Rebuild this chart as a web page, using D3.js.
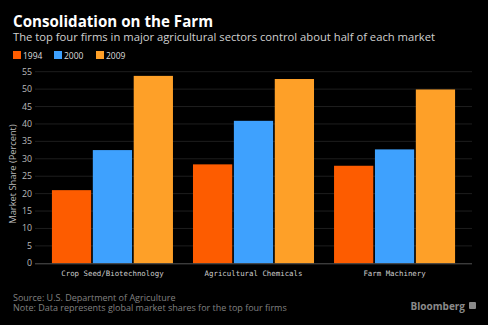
<!DOCTYPE html>
<html>
<head>
<meta charset="utf-8">
<script src="https://cdn.jsdelivr.net/npm/d3@7"></script>
<style>
  body { margin: 0; background: #000; }
  svg { display: block; background: #000; }
</style>
</head>
<body>
<svg width="488" height="325"></svg>
<script>
var sectors = ['Crop Seed/Biotechnology', 'Agricultural Chemicals', 'Farm Machinery'];
var years = ['1994', '2000', '2009'];
var share1994 = [21.0, 28.4, 28.0];
var share2000 = [32.5, 40.9, 32.7];
var share2009 = [53.8, 52.9, 49.9];
var yTicks = [0, 5, 10, 15, 20, 25, 30, 35, 40, 45, 50, 55];
var colors = ['#fd5c00', '#3ea1fe', '#fea028'];

var svg = d3.select('svg');
var width = +svg.attr('width');
var height = +svg.attr('height');

var series = [share1994, share2000, share2009];
var rows = sectors.map(function(s, i) {
    return { sector: s, values: years.map(function(y, j) { return { year: y, v: series[j][i], k: j }; }) };
});

// title + subtitle
svg.append('text').attr('x', 13).attr('y', 26.5)
    .attr('font-family', 'Open Sans').attr('font-weight', 'bold').attr('font-size', '15.5px')
    .attr('fill', '#fff').attr('textLength', 200).attr('lengthAdjust', 'spacingAndGlyphs')
    .text('Consolidation on the Farm');
svg.append('text').attr('x', 13).attr('y', 40.5)
    .attr('font-family', 'Open Sans').attr('font-size', '11.5px')
    .attr('fill', '#d0d0d0').attr('textLength', 422).attr('lengthAdjust', 'spacingAndGlyphs')
    .text('The top four firms in major agricultural sectors control about half of each market');

// legend
var legX = [13, 54, 96];
var leg = svg.append('g').selectAll('g').data(years).enter().append('g')
    .attr('transform', function(d, i) { return 'translate(' + legX[i] + ',51)'; });
leg.append('rect').attr('width', 8).attr('height', 8).attr('fill', function(d, i) { return colors[i]; });
leg.append('text').attr('x', 10).attr('y', 7.5)
    .attr('font-family', 'Open Sans').attr('font-size', '8.5px').attr('fill', '#ddd')
    .text(function(d) { return d; });

// scales
var x0 = d3.scaleBand().domain(sectors).range([35, 472]).paddingInner(0.142).paddingOuter(0.12);
var x1 = d3.scaleBand().domain(years).range([0, x0.bandwidth()]).paddingInner(0.04);
var y = d3.scaleLinear().domain([0, 55]).range([263.3, 71.7]);

// grid
svg.append('g').selectAll('line').data(yTicks.filter(function(t) { return t > 0; })).enter().append('line')
    .attr('x1', 35).attr('x2', 472)
    .attr('y1', function(d) { return y(d); }).attr('y2', function(d) { return y(d); })
    .attr('stroke', '#1e1e1e').attr('stroke-width', 1);

// y tick labels
svg.append('g').selectAll('text').data(yTicks).enter().append('text')
    .attr('x', 32).attr('y', function(d) { return y(d) + 3; })
    .attr('text-anchor', 'end')
    .attr('font-family', 'Open Sans').attr('font-size', '8.8px').attr('fill', '#bbb')
    .text(function(d) { return d; });

svg.append('text')
    .attr('transform', 'translate(16,174) rotate(-90)')
    .attr('text-anchor', 'middle')
    .attr('font-family', 'Open Sans').attr('font-size', '9.3px').attr('fill', '#bbb')
    .text('Market Share (Percent)');

// bars
var groups = svg.append('g').selectAll('g').data(rows).enter().append('g')
    .attr('transform', function(d) { return 'translate(' + x0(d.sector) + ',0)'; });
groups.selectAll('rect').data(function(d) { return d.values; }).enter().append('rect')
    .attr('x', function(d) { return x1(d.year); })
    .attr('width', x1.bandwidth())
    .attr('y', function(d) { return y(d.v); })
    .attr('height', function(d) { return y(0) - y(d.v); })
    .attr('fill', function(d) { return colors[d.k]; });

// baseline
svg.append('line').attr('x1', 35).attr('x2', 472).attr('y1', y(0) + 0.5).attr('y2', y(0) + 0.5)
    .attr('stroke', '#555').attr('stroke-width', 1);

// x labels
svg.append('g').selectAll('text').data(sectors).enter().append('text')
    .attr('x', function(d) { return x0(d) + x0.bandwidth() / 2; })
    .attr('y', 275.5)
    .attr('text-anchor', 'middle')
    .attr('font-family', 'DejaVu Sans Mono').attr('font-size', '7.4px').attr('fill', '#ccc')
    .text(function(d) { return d; });

// footer
svg.append('text').attr('x', 13).attr('y', 300.5)
    .attr('font-family', 'Open Sans').attr('font-size', '9px').attr('fill', '#808080')
    .text('Source: U.S. Department of Agriculture');
svg.append('text').attr('x', 13).attr('y', 311)
    .attr('font-family', 'Open Sans').attr('font-size', '9px').attr('fill', '#808080')
    .text('Note: Data represents global market shares for the top four firms');
svg.append('text').attr('x', 465).attr('y', 310).attr('text-anchor', 'end')
    .attr('font-family', 'Open Sans').attr('font-weight', 'bold').attr('font-size', '10px').attr('fill', '#8a8a8a')
    .text('Bloomberg');
svg.append('rect').attr('x', 469).attr('y', 302).attr('width', 7).attr('height', 7).attr('rx', 1)
    .attr('fill', '#8a8a8a');
</script>
</body>
</html>
